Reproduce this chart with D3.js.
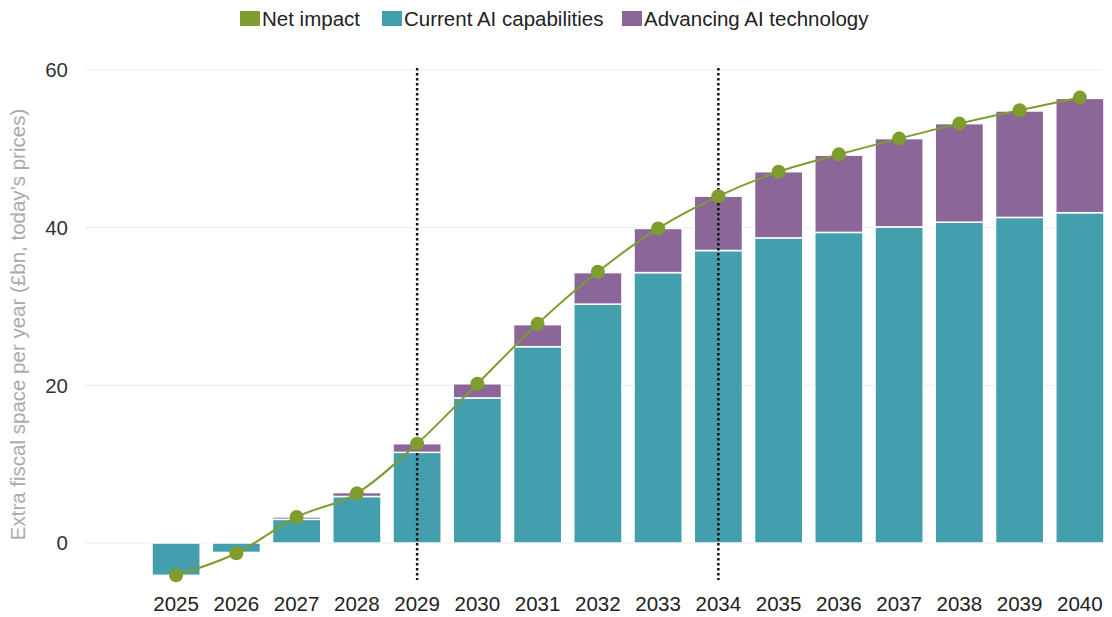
<!DOCTYPE html>
<html>
<head>
<meta charset="utf-8">
<script src="https://cdn.jsdelivr.net/npm/d3@7"></script>
<style>
  html, body { margin: 0; padding: 0; background: #fff; }
  svg { display: block; font-family: "Liberation Sans", Arial, sans-serif; }
</style>
</head>
<body>
<svg id="chart" width="1112" height="617"></svg>
<script>
// Years on the horizontal axis
const years = ["2025","2026","2027","2028","2029","2030","2031","2032","2033","2034","2035","2036","2037","2038","2039","2040"];
// Extra fiscal space from AI using current capabilities (£bn)
const currentAI = [-4.1, -1.2, 3.0, 5.9, 11.5, 18.4, 24.9, 30.3, 34.3, 37.1, 38.7, 39.4, 40.1, 40.7, 41.3, 41.9];
// Additional space from advancing AI technology (£bn)
const advancingAI = [0, 0, 0.3, 0.5, 1.1, 1.8, 2.8, 4.0, 5.6, 6.9, 8.4, 9.8, 11.2, 12.5, 13.5, 14.5];
// Net impact (£bn)
const netImpact = [-4.1, -1.3, 3.3, 6.3, 12.6, 20.2, 27.8, 34.4, 39.9, 44.0, 47.1, 49.3, 51.3, 53.2, 54.9, 56.5];
// Y axis ticks
const yTicks = [0, 20, 40, 60];
// Years marked with a dotted reference line
const markerYears = ["2029", "2034"];

const colors = { net: "#7f9c2f", current: "#439fae", advancing: "#8b6699" };
const fontSize = 20.5;

const svg = d3.select("#chart");

const x = d3.scaleBand().domain(years).range([146, 1110]).paddingInner(0.2).paddingOuter(0.1);
const y = d3.scaleLinear().domain([0, 60]).range([543, 70]);

// Gridlines
svg.append("g").selectAll("line").data(yTicks).join("line")
  .attr("x1", 85).attr("x2", 1102)
  .attr("y1", d => y(d)).attr("y2", d => y(d))
  .attr("stroke", "#ececec").attr("stroke-width", 1);

// Y axis tick labels
svg.append("g").selectAll("text").data(yTicks).join("text")
  .attr("x", 68).attr("y", d => y(d)).attr("dy", "0.35em")
  .attr("text-anchor", "end")
  .attr("font-size", fontSize).attr("fill", "#333")
  .text(d => d);

// Y axis title
svg.append("text")
  .attr("transform", `translate(25, ${y(30) + 18}) rotate(-90)`)
  .attr("text-anchor", "middle")
  .attr("font-size", fontSize).attr("fill", "#aaa")
  .text("Extra fiscal space per year (£bn, today’s prices)");

// Stacked bars: current capabilities from zero, advancing technology on top
const bars = svg.append("g");
years.forEach((yr, i) => {
  const c = currentAI[i];
  const a = advancingAI[i];
  bars.append("rect")
    .attr("x", x(yr)).attr("width", x.bandwidth())
    .attr("y", y(Math.max(0, c))).attr("height", Math.abs(y(c) - y(0)))
    .attr("fill", colors.current).attr("stroke", "#fff").attr("stroke-width", 1.5);
  if (a > 0) {
    const base = Math.max(0, c);
    bars.append("rect")
      .attr("x", x(yr)).attr("width", x.bandwidth())
      .attr("y", y(base + a)).attr("height", y(base) - y(base + a))
      .attr("fill", colors.advancing).attr("stroke", "#fff").attr("stroke-width", 1.5);
  }
});

// Dotted reference lines
svg.append("g").selectAll("line").data(markerYears).join("line")
  .attr("x1", d => x(d) + x.bandwidth() / 2).attr("x2", d => x(d) + x.bandwidth() / 2)
  .attr("y1", 68).attr("y2", 580)
  .attr("stroke", "#111").attr("stroke-width", 2.5).attr("stroke-dasharray", "2.5,2.5");

// Net impact line and points
const cx = d => x(d) + x.bandwidth() / 2;
const line = d3.line()
  .x((d, i) => cx(years[i]))
  .y(d => y(d))
  .curve(d3.curveMonotoneX);
svg.append("path").datum(netImpact)
  .attr("d", line).attr("fill", "none")
  .attr("stroke", colors.net).attr("stroke-width", 2);
svg.append("g").selectAll("circle").data(netImpact).join("circle")
  .attr("cx", (d, i) => cx(years[i])).attr("cy", d => y(d))
  .attr("r", 7).attr("fill", colors.net);

// X axis labels
svg.append("g").selectAll("text").data(years).join("text")
  .attr("x", d => cx(d)).attr("y", 604).attr("dy", "0.35em")
  .attr("text-anchor", "middle")
  .attr("font-size", fontSize).attr("fill", "#222")
  .text(d => d);

// Legend
const legendItems = [
  { label: "Net impact", color: colors.net, x: 240 },
  { label: "Current AI capabilities", color: colors.current, x: 382 },
  { label: "Advancing AI technology", color: colors.advancing, x: 622 }
];
const lg = svg.append("g").selectAll("g").data(legendItems).join("g")
  .attr("transform", d => `translate(${d.x}, 11)`);
lg.append("rect").attr("width", 20).attr("height", 15).attr("fill", d => d.color);
lg.append("text").attr("x", 22).attr("y", 8).attr("dy", "0.35em")
  .attr("font-size", fontSize).attr("fill", "#222")
  .text(d => d.label);
</script>
</body>
</html>
